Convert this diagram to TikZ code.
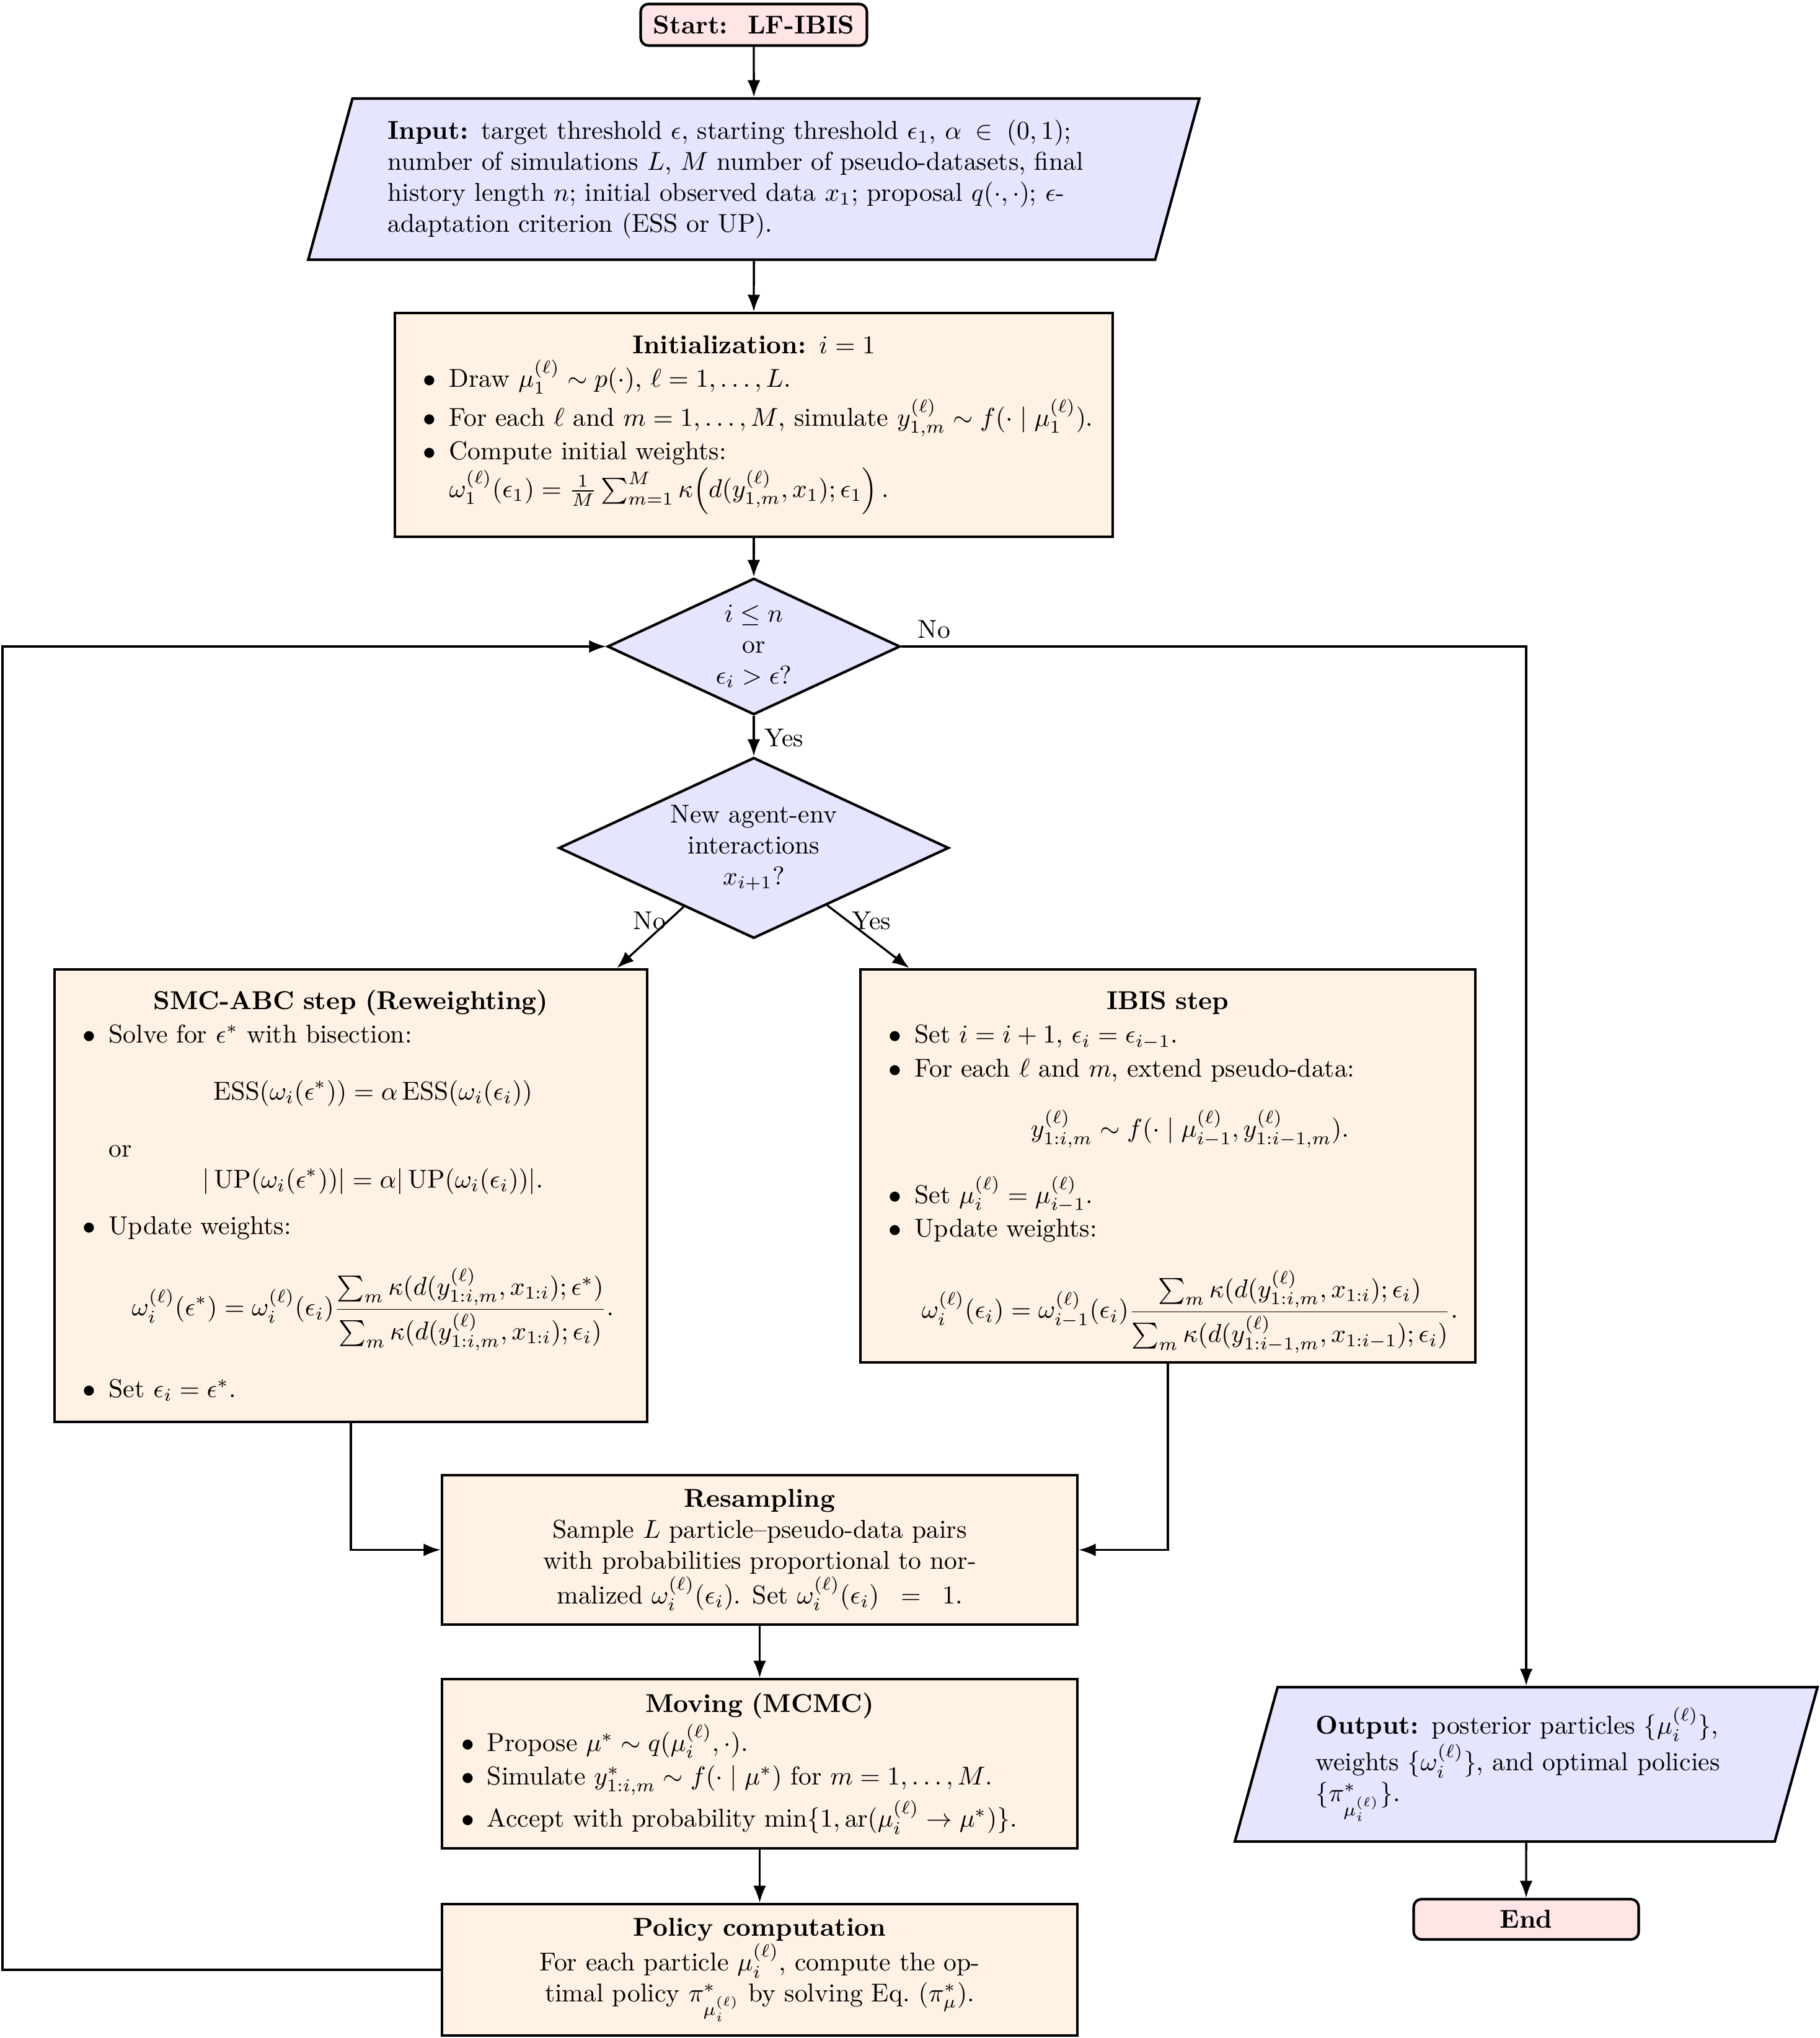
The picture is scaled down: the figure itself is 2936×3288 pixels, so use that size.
\documentclass[tikz,border=0pt]{standalone}
\usepackage{amsmath,amssymb}
\usepackage{enumitem}
\usetikzlibrary{shapes.geometric,arrows.meta,calc}
\setlength{\parindent}{0pt}
\setlist[itemize]{label=$\bullet$,leftmargin=17pt,labelsep=5pt,itemsep=1pt,parsep=0pt,topsep=1pt,partopsep=0pt}
\begin{document}
\begin{tikzpicture}[x=0.24pt,y=-0.24pt,
  base/.style={draw=black,line width=1pt},
  proc/.style={base,rectangle,fill=orange!10,inner sep=4pt},
  io/.style={base,trapezium,trapezium left angle=72,trapezium right angle=108,trapezium stretches body,fill=blue!10,align=left},
  decis/.style={base,diamond,fill=blue!10,inner sep=0pt,align=center},
  term/.style={base,rectangle,rounded corners=3pt,fill=red!10,font=\bfseries},
  arr/.style={-{Latex},line width=0.8pt},
  lbl/.style={inner sep=1pt}
]
\useasboundingbox (0,0) rectangle (2936,3288);

\node[term,minimum width=87.6pt,minimum height=16.1pt] (start) at (1216,40) {Start:\ \ LF-IBIS};

\node[io,minimum width=345pt,minimum height=62.4pt,text width=283.5pt] (input) at (1216,289)
{\textbf{Input:} target threshold $\epsilon$, starting threshold $\epsilon_1$, $\alpha\in(0,1)$; number of simulations $L$, $M$ number of pseudo-datasets, final history length $n$; initial observed data $x_1$; proposal $q(\cdot,\cdot)$; $\epsilon$-adaptation criterion (ESS or UP).};

\node[proc,minimum width=277.9pt,minimum height=86.6pt,text width=269.9pt] (init) at (1216,685.5) {%
{\centering\textbf{Initialization:} $i=1$\par}
\begin{itemize}
\item Draw $\mu_1^{(\ell)}\sim p(\cdot)$, $\ell=1,\dots,L$.
\item For each $\ell$ and $m=1,\dots,M$, simulate $y_{1,m}^{(\ell)}\sim f(\cdot\mid\mu_1^{(\ell)})$.
\item Compute initial weights:\\
$\omega_1^{(\ell)}(\epsilon_1)=\frac{1}{M}\sum_{m=1}^{M}\kappa\Big(d(y_{1,m}^{(\ell)},x_1);\epsilon_1\Big)\,$.
\end{itemize}};

\node[decis,aspect=2.15,minimum width=113.3pt,minimum height=52.8pt] (d1) at (1216,1043) {$i\le n$\\or\\$\epsilon_i>\epsilon$?};

\node[decis,aspect=2.15,minimum width=151pt,minimum height=70pt] (d2) at (1216,1368) {New agent-env\\interactions\\$x_{i+1}$?};

\node[proc,minimum width=229.4pt,minimum height=175.2pt,text width=221.4pt] (smc) at (566,1929) {%
{\centering\textbf{SMC-ABC step (Reweighting)}\par}
\begin{itemize}
\item Solve for $\epsilon^*$ with bisection:
\[\mathrm{ESS}(\omega_i(\epsilon^*))=\alpha\,\mathrm{ESS}(\omega_i(\epsilon_i))\]
or
\[\lvert\,\mathrm{UP}(\omega_i(\epsilon^*))\rvert=\alpha\lvert\,\mathrm{UP}(\omega_i(\epsilon_i))\rvert.\]
\item Update weights:
\[\omega_i^{(\ell)}(\epsilon^*)=\omega_i^{(\ell)}(\epsilon_i)\frac{\sum_m\kappa(d(y^{(\ell)}_{1:i,m},x_{1:i});\epsilon^*)}{\sum_m\kappa(d(y^{(\ell)}_{1:i,m},x_{1:i});\epsilon_i)}.\]
\item Set $\epsilon_i=\epsilon^*$.
\end{itemize}};

\node[proc,minimum width=238.1pt,minimum height=152.2pt,text width=230.1pt] (ibis) at (1884,1881) {%
{\centering\textbf{IBIS step}\par}
\begin{itemize}
\item Set $i=i+1$, $\epsilon_i=\epsilon_{i-1}$.
\item For each $\ell$ and $m$, extend pseudo-data:
\[y^{(\ell)}_{1:i,m}\sim f(\cdot\mid\mu^{(\ell)}_{i-1},y^{(\ell)}_{1:i-1,m}).\]
\item Set $\mu_i^{(\ell)}=\mu_{i-1}^{(\ell)}$.
\item Update weights:
\[\omega_i^{(\ell)}(\epsilon_i)=\omega_{i-1}^{(\ell)}(\epsilon_i)\frac{\sum_m\kappa(d(y^{(\ell)}_{1:i,m},x_{1:i});\epsilon_i)}{\sum_m\kappa(d(y^{(\ell)}_{1:i-1,m},x_{1:i-1});\epsilon_i)}.\]
\end{itemize}};

\node[proc,minimum width=246pt,minimum height=57.8pt,align=center] (resamp) at (1225.5,2500.5)
{\textbf{Resampling}\\Sample $L$ particle--pseudo-data pairs\\with probabilities proportional to nor-\\malized $\omega_i^{(\ell)}(\epsilon_i)$. Set $\omega_i^{(\ell)}(\epsilon_i)\;\;=\;\;1$.};

\node[proc,minimum width=246pt,minimum height=65.5pt,text width=245pt,inner xsep=0.5pt] (moving) at (1225.5,2845.5) {%
{\centering\textbf{Moving (MCMC)}\par}
\begin{itemize}
\item Propose $\mu^*\sim q(\mu_i^{(\ell)},\cdot)$.
\item Simulate $y^*_{1:i,m}\sim f(\cdot\mid\mu^*)$ for $m=1,\dots,M$.
\item Accept with probability $\min\{1,\mathrm{ar}(\mu_i^{(\ell)}\to\mu^*)\}$.
\end{itemize}};

\node[proc,minimum width=246pt,minimum height=50.9pt,align=center] (policy) at (1225.5,3178)
{\textbf{Policy computation}\\For each particle $\mu_i^{(\ell)}$, compute the op-\\timal policy $\pi^*_{\mu_i^{(\ell)}}$ by solving Eq.~$(\pi^*_\mu)$.};

\node[io,minimum width=225.6pt,minimum height=59.8pt,text width=163pt] (output) at (2462,2846.5)
{\textbf{Output:} posterior particles $\{\mu_i^{(\ell)}\}$, weights $\{\omega_i^{(\ell)}\}$, and optimal policies $\{\pi^*_{\mu_i^{(\ell)}}\}$.};

\node[term,minimum width=87.1pt,minimum height=15.6pt] (stop) at (2462,3096.5) {End};

\coordinate (lft) at (4,3178);

\draw[arr] (start.south) -- (input.north);
\draw[arr] (input.south) -- (init.north);
\draw[arr] (init.south) -- (d1.north);
\draw[arr] (d1.south) -- (d2.north);
\draw[arr] (d1.east) -| (output.north);
\draw[arr] (d2.220) -- ([xshift=-12.2pt]smc.north east);
\draw[arr] (d2.322) -- ([xshift=19.4pt]ibis.north west);
\draw[arr] (smc.south) |- (resamp.west);
\draw[arr] (ibis.south) |- (resamp.east);
\draw[arr] (resamp.south) -- (moving.north);
\draw[arr] (moving.south) -- (policy.north);
\draw[arr] (policy.west) -- (lft) |- (d1.west);
\draw[arr] (output.south) -- (stop.north);

\node[lbl] (lyes1) at (1265,1190) {Yes};
\node[lbl] (lno1) at (1507,1015) {No};
\node[lbl] (lno2) at (1048,1485) {No};
\node[lbl] (lyes2) at (1406,1485) {Yes};
\end{tikzpicture}
\end{document}
